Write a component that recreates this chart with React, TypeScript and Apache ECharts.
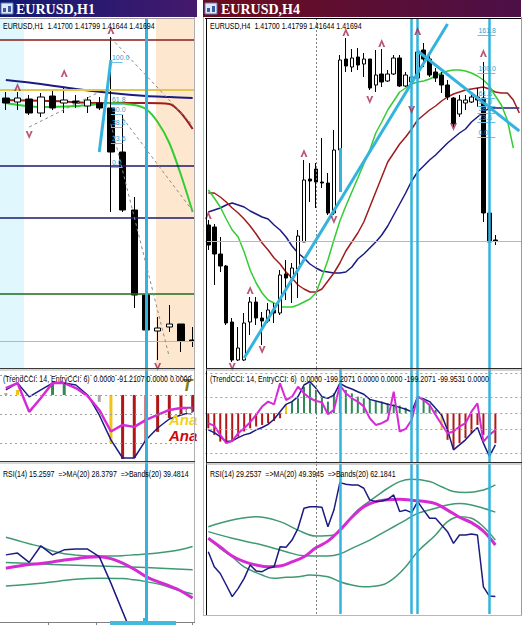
import { useEffect, useRef } from "react";
import * as echarts from "echarts";

const W = 531;
const H = 625;

// ---------------- H1 (left window) ----------------
const H1_BARS = Array.from({ length: 17 }, (_, i) => String(i));
// [open, close, low, high]
const H1_OHLC = [
  [1.4412, 1.4407, 1.44, 1.4418],
  [1.4408, 1.4412, 1.44, 1.4418],
  [1.4411, 1.4397, 1.4395, 1.4415],
  [1.4397, 1.4413, 1.4393, 1.4417],
  [1.4414, 1.4402, 1.44, 1.442],
  [1.4407, 1.441, 1.4397, 1.4422],
  [1.4409, 1.4407, 1.4402, 1.4415],
  [1.4404, 1.441, 1.4397, 1.4413],
  [1.4407, 1.4402, 1.44, 1.4413],
  [1.4402, 1.4358, 1.4298, 1.4473],
  [1.4358, 1.43, 1.4298, 1.4395],
  [1.43, 1.4215, 1.4202, 1.4313],
  [1.4215, 1.418, 1.4178, 1.4217],
  [1.4179, 1.4182, 1.415, 1.4193],
  [1.4183, 1.4186, 1.4178, 1.4205],
  [1.4186, 1.4169, 1.4158, 1.4186],
  [1.417, 1.4169, 1.4163, 1.4183],
];
const H1_JAW = [[0, 1.443], [3, 1.4426], [6, 1.4421], [9, 1.4417], [12, 1.4414], [14, 1.4413], [16, 1.4412]];
const H1_TEETH = [[0, 1.441], [4, 1.4409], [8, 1.4407], [12, 1.4407], [14, 1.4406], [15, 1.4397], [16, 1.4381]];
const H1_LIPS = [[0, 1.4407], [3, 1.4403], [6, 1.4404], [8, 1.4406], [9, 1.4407], [11, 1.4405], [12, 1.4401], [13, 1.4388], [14, 1.4367], [15, 1.4335], [16, 1.4298]];
const H1_LEVELS = [1.447, 1.442, 1.4344, 1.4292, 1.4216];
const H1_LEVEL_KIND = ["maroon", "gold", "navy", "navy", "green"];
const H1_LAST_PRICE = 1.4169;
const H1_FIB_LEVELS = [1.4448, 1.4406, 1.4396, 1.4383, 1.4367, 1.4343];
const H1_FIB_LABELS = ["100.0", "61.8", "50.0", "38.2", "23.6", "0.0"];
const H1_CYAN_TRENDS = [[[8, 1.4358], [9, 1.445]]];
const H1_DASHED_TRENDS = [
  [[9, 1.4386], [14, 1.4153]],
  [[9, 1.4472], [16, 1.4385]],
  [[10, 1.4392], [16, 1.4299]],
  [[2, 1.4383], [8, 1.4418]],
  [[8, 1.4418], [11, 1.4496]],
];
const H1_FRACTAL_UP = [[1, 1.4423], [5, 1.4437], [9, 1.448]];
const H1_FRACTAL_DOWN = [[2, 1.4375], [13, 1.4143]];
const H1_VLINES = [12];

const H1_CCI_HIST = [10, 26, 0, 0, 57, 57, 0, 0, -36, -250, -333, -328, -244, -192, -120, -104, -88];
const H1_CCI_STATE = ["flat", "warn", "flat", "flat", "up", "up", "flat", "flat", "flat", "warn", "down", "down", "down", "down", "down", "down", "down"];
const H1_TREND_CCI = [26, 62, -10, 26, 62, 62, 52, 0, -104, -234, -328, -328, -234, -172, -125, -104, -88];
const H1_ENTRY_CCI = [36, 62, -88, -16, 62, 62, 36, -5, -78, -190, -156, -166, -130, -104, -78, -68, -68];
const H1_CCI_LEVELS = [100, 0, -100, -250];

const H1_RSI = [45.5, 46.2, 42.5, 49.1, 45.5, 47.5, 47.8, 47.8, 44.8, 34.3, 23.0, 11.8, 12.0, 13.0, 14.0, 13.5, 15.3];
const H1_RSI_MA = [40.2, 41.0, 41.7, 42.1, 42.7, 43.5, 44.0, 44.6, 44.8, 44.0, 42.2, 39.8, 36.9, 34.9, 33.2, 31.2, 28.4];
const H1_BAND_UP = [52.5, 51.2, 49.9, 48.7, 47.0, 45.9, 45.4, 45.1, 45.1, 45.1, 45.2, 45.5, 45.8, 46.2, 46.8, 47.6, 48.8];
const H1_BAND_MID = [[0, 42.5], [4, 41.7], [8, 41.1], [12, 40.5], [16, 39.6]];
const H1_BAND_LOW = [[0, 33.2], [3, 34.3], [6, 35.8], [8, 36.2], [10, 36.1], [11, 35.6], [12, 34.9], [13, 34.0], [14, 32.7], [15, 31.2], [16, 30.0]];

// ---------------- H4 (right window) ----------------
const H4_BARS = Array.from({ length: 53 }, (_, i) => String(i));
const H4_OHLC = [
  [1.4185, 1.4165, 1.416, 1.419],
  [1.4183, 1.4156, 1.4125, 1.4186],
  [1.4156, 1.4144, 1.4138, 1.4173],
  [1.4144, 1.4087, 1.4085, 1.4145],
  [1.4088, 1.405, 1.4048, 1.4092],
  [1.405, 1.4062, 1.4049, 1.4083],
  [1.405, 1.4087, 1.4049, 1.4097],
  [1.4088, 1.4108, 1.4075, 1.4113],
  [1.4108, 1.4092, 1.4085, 1.4113],
  [1.4092, 1.4089, 1.4065, 1.4098],
  [1.4089, 1.41, 1.4087, 1.4107],
  [1.41, 1.4097, 1.4087, 1.4107],
  [1.4097, 1.4135, 1.4095, 1.414],
  [1.4136, 1.4132, 1.411, 1.415],
  [1.4132, 1.4142, 1.4107, 1.4147],
  [1.4141, 1.4174, 1.4112, 1.418],
  [1.4168, 1.423, 1.4168, 1.425],
  [1.4231, 1.4229, 1.4208, 1.4247],
  [1.4241, 1.4228, 1.4202, 1.4247],
  [1.4228, 1.4227, 1.4222, 1.4272],
  [1.4227, 1.4197, 1.4195, 1.4237],
  [1.4197, 1.426, 1.4195, 1.428],
  [1.426, 1.435, 1.4258, 1.4355],
  [1.4351, 1.4344, 1.4338, 1.4372],
  [1.4343, 1.4352, 1.4338, 1.4361],
  [1.4353, 1.4345, 1.434, 1.4362],
  [1.4346, 1.4351, 1.4333, 1.4357],
  [1.4351, 1.4322, 1.432, 1.4351],
  [1.4325, 1.4335, 1.4318, 1.436],
  [1.4336, 1.4328, 1.4323, 1.4361],
  [1.4329, 1.4336, 1.4328, 1.434],
  [1.4336, 1.4352, 1.4335, 1.4355],
  [1.4352, 1.4324, 1.4323, 1.4355],
  [1.4324, 1.4335, 1.4323, 1.4338],
  [1.4328, 1.4333, 1.432, 1.434],
  [1.4332, 1.4358, 1.433, 1.4365],
  [1.436, 1.4351, 1.4343, 1.4367],
  [1.4351, 1.4335, 1.4333, 1.4357],
  [1.4338, 1.4332, 1.4328, 1.4342],
  [1.4335, 1.4325, 1.4317, 1.4338],
  [1.4325, 1.4313, 1.431, 1.433],
  [1.4312, 1.4286, 1.4283, 1.4313],
  [1.4296, 1.431, 1.4293, 1.4315],
  [1.4307, 1.431, 1.43, 1.4315],
  [1.4308, 1.4313, 1.4307, 1.4317],
  [1.4313, 1.431, 1.4303, 1.4322],
  [1.4312, 1.4197, 1.4188, 1.4348],
  [1.4197, 1.4168, 1.4165, 1.4197],
  [1.417, 1.4169, 1.4165, 1.4175],
];
const H4_LIPS = [1.422, 1.4212, 1.4203, 1.4191, 1.418, 1.4173, 1.4158, 1.414, 1.4127, 1.4117, 1.411, 1.4107, 1.4103, 1.4103, 1.4103, 1.4105, 1.4108, 1.4111, 1.4117, 1.4133, 1.415, 1.417, 1.4189, 1.4204, 1.4218, 1.4232, 1.4246, 1.426, 1.4277, 1.4288, 1.43, 1.4309, 1.4318, 1.4322, 1.4326, 1.4328, 1.4329, 1.4331, 1.4334, 1.4337, 1.4339, 1.434, 1.434, 1.4339, 1.4337, 1.4334, 1.433, 1.4324, 1.4314, 1.4305, 1.429, 1.4262];
const H4_TEETH = [1.4217, 1.4217, 1.4213, 1.4208, 1.4202, 1.4197, 1.4191, 1.4184, 1.4176, 1.4167, 1.416, 1.4152, 1.4146, 1.4138, 1.4132, 1.4125, 1.4121, 1.4118, 1.4118, 1.4121, 1.4129, 1.4137, 1.4147, 1.4159, 1.4168, 1.4177, 1.4188, 1.4203, 1.4218, 1.4233, 1.4248, 1.4257, 1.4266, 1.4273, 1.4281, 1.429, 1.4295, 1.43, 1.4304, 1.4309, 1.4313, 1.4316, 1.4318, 1.432, 1.4321, 1.4322, 1.4323, 1.4321, 1.4318, 1.4317, 1.4317, 1.431, 1.4297];
const H4_JAW = [1.4198, 1.42, 1.4202, 1.4205, 1.4207, 1.4205, 1.4203, 1.4199, 1.4196, 1.4193, 1.4191, 1.4185, 1.418, 1.4173, 1.4164, 1.4157, 1.4152, 1.4146, 1.4142, 1.4139, 1.4138, 1.4137, 1.4137, 1.4138, 1.4143, 1.4151, 1.4156, 1.4162, 1.4168, 1.4175, 1.4184, 1.4195, 1.4206, 1.4217, 1.4229, 1.4238, 1.4244, 1.425, 1.4255, 1.4261, 1.4267, 1.4272, 1.4277, 1.4281, 1.4288, 1.4293, 1.4298, 1.4302, 1.4302, 1.4302, 1.4302, 1.4302, 1.4302];
const H4_LAST_PRICE = 1.4169;
const H4_FIB_LEVELS = [1.4375, 1.4337, 1.4312, 1.4304, 1.4297, 1.4288, 1.4273];
const H4_FIB_LABELS = ["161.8", "100.0", "61.8", "50.0", "38.2", "23.6", "0.0"];
const H4_CYAN_TRENDS = [
  [[6, 1.4052], [40, 1.4386]],
  [[35, 1.4359], [52, 1.4279]],
  [[22, 1.4262], [22, 1.4218]],
];
const H4_FRACTAL_UP = [[0, 1.4195], [7, 1.412], [16, 1.4257], [23, 1.4378], [29, 1.4367], [35, 1.4379], [46, 1.4357]];
const H4_FRACTAL_DOWN = [[4, 1.4043], [9, 1.406], [21, 1.419], [27, 1.431], [34, 1.43], [41, 1.4283]];
const H4_VLINES_MAIN = [34, 35, 47];
const H4_VLINES_SUB = [22, 34, 35, 47];
const H4_DOTTED_V = 18;

const H4_CCI_HIST = [-94, -135, -177, -187, -177, -146, -114, -94, -83, -73, -62, -48, -31, 52, 73, 94, 166, 187, 146, 104, 73, 125, 187, 146, 125, 104, 94, 83, 73, 73, 62, 56, 48, 35, 21, 104, 94, 56, 21, -104, -166, -219, -187, -156, -125, -73, -135, -250, -187];
const H4_CCI_STATE = H4_CCI_HIST.map((_, i) => (i === 13 || i === 39 ? "warn" : i < 13 || i > 39 ? "down" : "up"));
const H4_TREND_CCI = [-104, -121, -146, -177, -173, -152, -135, -125, -104, -89, -69, -37, 10, 56, 73, 104, 177, 198, 156, 104, 94, 114, 187, 166, 152, 135, 119, 87, 77, 67, 56, 48, 37, 25, 10, 104, 89, 73, 31, -10, -104, -229, -198, -166, -125, -89, -187, -270, -198];
const H4_ENTRY_CCI = [-62, -79, -135, -187, -173, -125, -94, -56, -10, 42, 73, 56, 187, 83, 104, 166, 125, 94, 77, 69, -6, 21, 177, 125, 94, 73, 42, -31, -73, -62, -42, 135, -114, -98, -42, 104, 83, 52, -10, -69, -125, -114, -83, -62, 10, 62, -177, -135, -104];
const H4_CCI_LEVELS = [250, 100, 0, -100, -250];

const H4_RSI = [46.8, 40.9, 38.3, 33.8, 29.3, 32.5, 36.4, 41.6, 39.3, 39.0, 40.3, 40.9, 48.7, 48.5, 51.3, 55.9, 63.7, 64.3, 64.3, 64.1, 56.5, 63.0, 73.7, 73.1, 72.8, 72.8, 71.5, 66.9, 66.3, 66.5, 67.2, 68.9, 62.4, 63.0, 62.0, 66.3, 63.0, 59.8, 59.8, 57.2, 54.6, 50.0, 53.3, 53.3, 53.7, 53.3, 33.1, 29.5, 29.3];
const H4_RSI_MA = [[0, 52.0], [2, 48.6], [4, 45.1], [6, 42.9], [8, 41.6], [10, 40.9], [12, 41.2], [14, 42.8], [16, 44.8], [18, 48.3], [20, 50.9], [22, 55.2], [24, 60.2], [26, 64.3], [28, 66.3], [30, 67.0], [32, 67.2], [34, 66.8], [36, 66.4], [38, 65.5], [40, 63.0], [42, 60.2], [44, 58.1], [46, 54.8], [48, 49.4]];
const H4_BAND_UP = [[0, 56.5], [4, 59.1], [8, 60.4], [12, 58.5], [15, 55.2], [18, 52.9], [21, 53.3], [23, 57.8], [25, 63.0], [28, 68.2], [30, 71.5], [32, 74.1], [34, 75.0], [37, 74.1], [39, 72.1], [41, 70.2], [43, 69.8], [46, 70.8], [48, 72.8]];
const H4_BAND_MID = [[0, 54.6], [4, 52.0], [9, 49.4], [13, 46.8], [16, 45.2], [20, 45.1], [22, 45.9], [24, 48.1], [27, 51.3], [29, 53.9], [31, 56.5], [33, 59.1], [35, 61.7], [38, 63.7], [40, 65.0], [42, 65.6], [44, 65.0], [46, 63.7], [48, 62.2]];
const H4_BAND_LOW = [[0, 52.0], [2, 48.1], [4, 44.8], [6, 40.9], [9, 37.7], [11, 36.4], [13, 36.8], [15, 37.0], [17, 37.7], [20, 37.0], [22, 35.1], [24, 33.8], [26, 33.1], [29, 33.8], [31, 36.4], [33, 40.9], [35, 46.8], [38, 53.3], [40, 58.5], [42, 60.4], [44, 59.8], [46, 56.5], [48, 51.3]];

// ---------------- texts ----------------
const TITLE_H1 = "EURUSD,H1";
const TITLE_H4 = "EURUSD,H4";
const HEAD_H1 = "EURUSD,H1  1.41700 1.41799 1.41644 1.41694";
const HEAD_H4 = "EURUSD,H4  1.41700 1.41799 1.41644 1.41694";
const CCI_H1 = "(TrendCCI: 14, EntryCCI: 6)  0.0000 -91.2107 0.0000 0.0000";
const CCI_H4 = "(TrendCCI: 14, EntryCCI: 6)  0.0000 -199.2071 0.0000 0.0000 -199.2071 -99.9531 0.0000";
const RSI_H1 = "RSI(14) 15.2597  =>MA(20) 28.3797  =>Bands(20) 39.4814";
const RSI_H4 = "RSI(14) 29.2537  =>MA(20) 49.3945  =>Bands(20) 62.1841";

// ---------------- styles ----------------
const CYAN = "#33b3dd";
const NAVY = "#1b1b82";
const MAROON = "#a01c1c";
const LIME = "#33cc33";
const MAGENTA = "#d42bd4";
const BAND = "#3f9a72";
const FRACTAL = "#a8294f";
const FIB = "#2f9fd0";
const STATE_COLOR: Record<string, string> = { up: "#2e8b57", down: "#b01818", warn: "#f0c419", flat: "#a8a8a8" };
const LEVEL_COLOR: Record<string, string> = { maroon: "#8b1a1a", gold: "#e6c64a", navy: "#1a1a6e", green: "#1e6b1e" };
const UP_ARROW = "path://M5,0 L10,9 L7.2,9 L5,4.6 L2.8,9 L0,9 Z";
const DOWN_ARROW = "path://M0,0 L2.8,0 L5,4.4 L7.2,0 L10,0 L5,9 Z";

const hLine = (v: number, color: string, width: number, type: any = "solid") => ({ yAxis: v, lineStyle: { color, width, type } });
const vLine = (v: number, color: string, width: number, type: any = "solid") => ({ xAxis: v, lineStyle: { color, width, type } });
const seg = (a: number[], b: number[], color: string, width: number, type: any = "solid") => [
  { coord: a, lineStyle: { color, width, type } },
  { coord: b },
];
const markLine = (data: any[]) => ({
  silent: true,
  symbol: ["none", "none"],
  precision: 6,
  animation: false,
  label: { show: false },
  emphasis: { disabled: true },
  data,
});
const fibLines = (levels: number[], labels: string[], x0: number, x1: number) =>
  levels.map((lv, k) => [
    {
      coord: [x0, lv],
      lineStyle: { color: "#6cc0e2", width: 1, type: "solid" },
      label: { show: true, formatter: labels[k], position: "insideStartTop", distance: 1, color: FIB, fontSize: 7, fontFamily: "Liberation Sans" },
    },
    { coord: [x1, lv] },
  ]);

function lineS(g: number, data: any[], color: string, width: number, smooth: any = false, z = 3, extra: any = {}) {
  return {
    type: "line",
    xAxisIndex: g,
    yAxisIndex: g,
    data,
    showSymbol: false,
    symbol: "none",
    smooth,
    lineStyle: { color, width },
    z,
    silent: true,
    animation: false,
    ...extra,
  };
}

function candle(g: number, data: number[][], barWidth: number, ml: any) {
  return {
    type: "candlestick",
    xAxisIndex: g,
    yAxisIndex: g,
    data,
    barWidth,
    silent: true,
    itemStyle: { color: "#ffffff", color0: "#000000", borderColor: "#000000", borderColor0: "#000000", borderColorDoji: "#000000", borderWidth: 1 },
    markLine: ml,
    z: 3,
  };
}

function fractals(g: number, data: number[][], up: boolean) {
  return {
    type: "scatter",
    xAxisIndex: g,
    yAxisIndex: g,
    data,
    symbol: up ? UP_ARROW : DOWN_ARROW,
    symbolSize: [7, 8],
    itemStyle: { color: FRACTAL },
    silent: true,
    z: 5,
  };
}

function hist(g: number, values: number[], states: string[], barWidth: number, ml: any) {
  return {
    type: "bar",
    xAxisIndex: g,
    yAxisIndex: g,
    data: values.map((v, i) => ({ value: v, itemStyle: { color: STATE_COLOR[states[i]] } })),
    barWidth,
    silent: true,
    markLine: ml,
    z: 2,
  };
}

function headText(x: number, y: number, text: string) {
  return {
    type: "text",
    x,
    y,
    scaleX: 0.78,
    z: 100,
    silent: true,
    style: { text, font: '9px "Liberation Sans"', fill: "#000", align: "left", verticalAlign: "top" },
  };
}
const gLine = (x1: number, y1: number, x2: number, y2: number, stroke: string, lineWidth = 1, z = 100) => ({
  type: "line",
  shape: { x1, y1, x2, y2 },
  style: { stroke, lineWidth },
  z,
  silent: true,
});
const gRect = (x: number, y: number, width: number, height: number, fill: any, z = 100, stroke?: string) => ({
  type: "rect",
  shape: { x, y, width, height },
  style: { fill, stroke, lineWidth: stroke ? 1 : 0 },
  z,
  silent: true,
});

function buildOption() {
  const grids = [
    { left: -5.5, top: 19, width: 204, height: 350 },
    { left: -5.5, top: 369, width: 204, height: 94 },
    { left: -5.5, top: 462, width: 204, height: 160 },
    { left: 205.3, top: 19, width: 317, height: 349 },
    { left: 205.3, top: 369, width: 317, height: 94 },
    { left: 205.3, top: 464, width: 317, height: 150 },
  ];
  const ranges = [
    [1.4141, 1.4491],
    [-354, 135],
    [18.9, 82.3],
    [1.4042, 1.4391],
    [-311, 277],
    [22.51, 80.95],
  ];

  const h1MainML = markLine([
    ...H1_LEVELS.map((v, i) => hLine(v, LEVEL_COLOR[H1_LEVEL_KIND[i]], H1_LEVEL_KIND[i] === "gold" ? 2 : 1.5)),
    hLine(H1_LAST_PRICE, "#b8b8b8", 1),
    ...H1_DASHED_TRENDS.map(([a, b]) => seg(a, b, "#8a8a8a", 1, [3, 3])),
    ...H1_CYAN_TRENDS.map(([a, b]) => seg(a, b, CYAN, 3)),
    ...fibLines(H1_FIB_LEVELS, H1_FIB_LABELS, 9, 10),
    ...H1_VLINES.map((x) => vLine(x, CYAN, 3)),
  ]);
  const h4MainML = markLine([
    hLine(H4_LAST_PRICE, "#b8b8b8", 1),
    vLine(H4_DOTTED_V, "#808080", 1, [2, 2]),
    ...H4_CYAN_TRENDS.map(([a, b]) => seg(a, b, CYAN, 3)),
    ...fibLines(H4_FIB_LEVELS, H4_FIB_LABELS, 45, 48),
    ...H4_VLINES_MAIN.map((x) => vLine(x, CYAN, 2.5)),
  ]);
  const h1CciML = markLine([
    ...H1_CCI_LEVELS.map((v) => hLine(v, "#a0a0a0", 1, [2, 3])),
    ...H1_VLINES.map((x) => vLine(x, CYAN, 3)),
  ]);
  const h1RsiML = markLine([...H1_VLINES.map((x) => vLine(x, CYAN, 3))]);
  const h4CciML = markLine([
    ...H4_CCI_LEVELS.map((v) => hLine(v, "#a0a0a0", 1, [2, 3])),
    vLine(H4_DOTTED_V, "#808080", 1, [2, 2]),
    ...H4_VLINES_SUB.map((x) => vLine(x, CYAN, 2.5)),
  ]);
  const h4RsiML = markLine([
    vLine(H4_DOTTED_V, "#808080", 1, [2, 2]),
    ...H4_VLINES_SUB.map((x) => vLine(x, CYAN, 2.5)),
  ]);

  const series: any[] = [
    // H1 main
    lineS(0, H1_JAW, NAVY, 2, 0.3, 2),
    lineS(0, H1_TEETH, MAROON, 2, 0.3, 2),
    lineS(0, H1_LIPS, LIME, 2, 0.3, 2),
    candle(0, H1_OHLC, 7, h1MainML),
    fractals(0, H1_FRACTAL_UP, true),
    fractals(0, H1_FRACTAL_DOWN, false),
    // H1 CCI
    hist(1, H1_CCI_HIST, H1_CCI_STATE, 3, h1CciML),
    lineS(1, H1_TREND_CCI, NAVY, 1.5),
    lineS(1, H1_ENTRY_CCI, MAGENTA, 2.5),
    // H1 RSI
    lineS(2, H1_BAND_UP, BAND, 1.5, 0.3),
    lineS(2, H1_BAND_MID, BAND, 1.5, 0.3),
    lineS(2, H1_BAND_LOW, BAND, 1.5, 0.3),
    lineS(2, H1_RSI_MA, MAGENTA, 3, 0.3),
    lineS(2, H1_RSI, NAVY, 1.5, false, 4, { markLine: h1RsiML }),
    // H4 main
    lineS(3, H4_JAW, NAVY, 1.5, false, 2),
    lineS(3, H4_TEETH, MAROON, 1.5, false, 2),
    lineS(3, H4_LIPS, LIME, 1.5, false, 2),
    candle(3, H4_OHLC, 4, h4MainML),
    fractals(3, H4_FRACTAL_UP, true),
    fractals(3, H4_FRACTAL_DOWN, false),
    // H4 CCI
    hist(4, H4_CCI_HIST, H4_CCI_STATE, 2, h4CciML),
    lineS(4, H4_TREND_CCI, NAVY, 1.5),
    lineS(4, H4_ENTRY_CCI, MAGENTA, 2),
    // H4 RSI
    lineS(5, H4_BAND_UP, BAND, 1.5, 0.4),
    lineS(5, H4_BAND_MID, BAND, 1.5, 0.4),
    lineS(5, H4_BAND_LOW, BAND, 1.5, 0.4),
    lineS(5, H4_RSI_MA, MAGENTA, 3, 0.4),
    lineS(5, H4_RSI, NAVY, 1.5, false, 4, { markLine: h4RsiML }),
  ];

  const leftBar = new echarts.graphic.LinearGradient(0, 0, 1, 0, [
    { offset: 0, color: "#101a72" },
    { offset: 1, color: "#45196c" },
  ]);
  const rightBar = new echarts.graphic.LinearGradient(0, 0, 1, 0, [
    { offset: 0, color: "#6c0c1c" },
    { offset: 1, color: "#4c1048" },
  ]);

  const graphics: any[] = [
    // session backgrounds (below series)
    gRect(0, 19, 24, 349, "#e0f8fd", 0),
    gRect(156, 19, 38, 349, "#fde8cf", 0),
    // covers between windows
    gRect(195, 17, 8, 608, "#ffffff", 90),
    gRect(522, 17, 9, 608, "#ffffff", 90),
    gRect(203, 615, 320, 10, "#ffffff", 90),
    // title bars
    gRect(0, 0, 197, 17, leftBar, 100),
    gRect(203, 0, 318, 17, rightBar, 100),
    gRect(1, 3, 12, 11, "#dfe8f8", 101, "#5a78b8"),
    gRect(3, 8, 3, 4, "#3a5aa8", 102),
    gRect(8, 6, 3, 6, "#3a5aa8", 102),
    gRect(205, 3, 12, 11, "#dfe8f8", 101, "#5a78b8"),
    gRect(207, 8, 3, 4, "#3a5aa8", 102),
    gRect(212, 6, 3, 6, "#3a5aa8", 102),
    {
      type: "text", x: 16, y: 9, z: 101, silent: true,
      style: { text: TITLE_H1, font: 'bold 14px "Liberation Serif"', fill: "#ffffff", align: "left", verticalAlign: "middle" },
    },
    {
      type: "text", x: 221, y: 9, z: 101, silent: true,
      style: { text: TITLE_H4, font: 'bold 14px "Liberation Serif"', fill: "#ffffff", align: "left", verticalAlign: "middle" },
    },
    // frames
    gLine(0, 18.5, 195, 18.5, "#9a9a9a"),
    gLine(194.5, 17, 194.5, 623, "#b0b0b0"),
    gLine(203.5, 17, 203.5, 616, "#b8b8b8"),
    gLine(206.5, 18, 206.5, 615, "#000000"),
    gLine(205, 18.5, 522, 18.5, "#000000"),
    gLine(521.5, 17, 521.5, 616, "#9a9a9a"),
    gLine(203, 615.5, 522, 615.5, "#b8b8b8"),
    // panel separators
    gLine(0, 368.5, 195, 368.5, "#3a3a3a"),
    gLine(0, 370, 195, 370, "#b0b0b0"),
    gLine(0, 461.5, 195, 461.5, "#3a3a3a"),
    gLine(0, 463, 195, 463, "#b0b0b0"),
    gLine(206, 368.5, 522, 368.5, "#2a2a2a"),
    gLine(206, 370, 522, 370, "#a0a0a0"),
    gLine(206, 462.5, 522, 462.5, "#2a2a2a"),
    gLine(206, 464, 522, 464, "#a0a0a0"),
    // left time axis
    gLine(0, 622.5, 195, 622.5, "#808080"),
    gLine(48.5, 622, 48.5, 625, "#808080"),
    gLine(96.5, 622, 96.5, 625, "#808080"),
    gLine(192.5, 622, 192.5, 625, "#808080"),
    gRect(110, 621, 66, 4, "#45b8dc", 101),
    gLine(144.5, 618, 144.5, 625, CYAN, 3, 99),
    // header texts
    headText(3, 22, HEAD_H1),
    headText(210, 22, HEAD_H4),
    headText(3, 375, CCI_H1),
    headText(210, 375, CCI_H4),
    headText(3, 470, RSI_H1),
    headText(210, 470, RSI_H4),
    // clipped labels on left CCI
    {
      type: "text", x: 182, y: 377, z: 95, silent: true,
      style: { text: "T", font: 'italic bold 17px "Liberation Sans"', fill: "#7f7f10", align: "left", verticalAlign: "top" },
    },
    {
      type: "circle", shape: { cx: 189, cy: 411, r: 3 }, z: 95, silent: true,
      style: { fill: "#ffffff", stroke: "#606060", lineWidth: 1 },
    },
    {
      type: "text", x: 169, y: 412, z: 95, silent: true,
      style: { text: "Ana", font: 'italic bold 15px "Liberation Sans"', fill: "#f2d21a", align: "left", verticalAlign: "top" },
    },
    {
      type: "text", x: 169, y: 428, z: 95, silent: true,
      style: { text: "Ana", font: 'italic bold 15px "Liberation Sans"', fill: "#cc0a0a", align: "left", verticalAlign: "top" },
    },
    gRect(197, 369, 6, 94, "#ffffff", 96),
  ];

  return {
    animation: false,
    backgroundColor: "#ffffff",
    grid: grids,
    xAxis: grids.map((_, i) => ({
      type: "category",
      gridIndex: i,
      data: i < 3 ? H1_BARS : H4_BARS,
      boundaryGap: true,
      show: false,
    })),
    yAxis: ranges.map(([min, max], i) => ({
      type: "value",
      gridIndex: i,
      min,
      max,
      show: false,
      splitLine: { show: false },
    })),
    series,
    graphic: { elements: graphics },
  };
}

export default function App() {
  const ref = useRef<HTMLDivElement>(null);
  useEffect(() => {
    if (!ref.current) return;
    const chart = echarts.init(ref.current, undefined, { renderer: "svg", width: W, height: H });
    chart.setOption(buildOption() as any);
    return () => chart.dispose();
  }, []);
  return (
    <div
      ref={ref}
      style={{ position: "absolute", left: 0, top: 0, width: W, height: H, background: "#ffffff" }}
    />
  );
}
